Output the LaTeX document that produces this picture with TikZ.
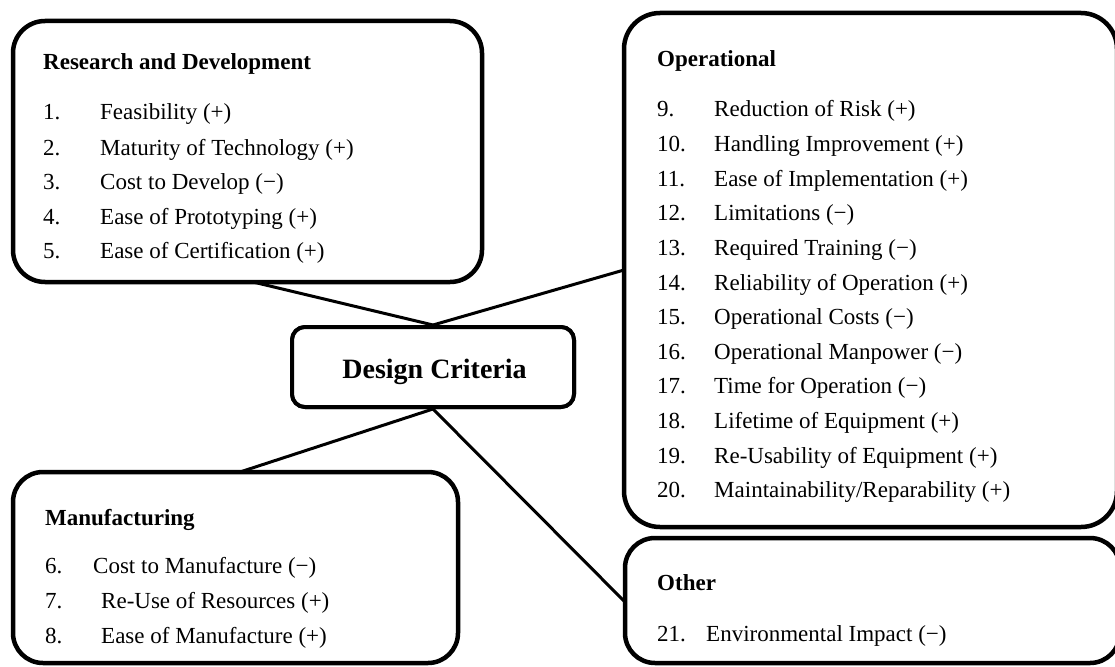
\documentclass[tikz,border=0pt]{standalone}
\usepackage{fontspec}
\setmainfont{Liberation Serif}
\begin{document}
\begin{tikzpicture}[x=1pt,y=-1pt,
  box/.style={draw, line width=4.5pt, rounded corners=32pt, fill=white, inner sep=0pt},
  centerbox/.style={draw, line width=4pt, rounded corners=13pt, fill=white, inner sep=0pt},
  link/.style={line width=3pt},
  txt/.style={anchor=base west, inner sep=0pt, font=\fontsize{23}{27}\selectfont},
  head/.style={txt, font=\fontsize{23}{27}\selectfont\bfseries},
  title/.style={anchor=base, inner sep=0pt, font=\fontsize{28}{33}\selectfont\bfseries}]
\useasboundingbox (0,0) rectangle (1115,666);
\clip (0,0) rectangle (1115,666);

% connector end points on the outer boxes
\coordinate (rdL) at (253,282);
\coordinate (opL) at (624,270);
\coordinate (mfT) at (240,472);
\coordinate (otL) at (625,602);

% central box
\node[centerbox, minimum width=282pt, minimum height=80pt] (dc) at (433,367) {};

% connectors
\draw[link] (rdL) -- (dc.north);
\draw[link] (dc.north) -- (opL);
\draw[link] (dc.south) -- (mfT);
\draw[link] (dc.south) -- (otL);

% boxes
\node[box, minimum width=469pt, minimum height=261pt] (rd) at (247.5,151.5) {};
\node[box, minimum width=493pt, minimum height=514pt, rounded corners=36pt] (op) at (870.5,270) {};
\node[box, minimum width=495pt, minimum height=125pt, rounded corners=30pt] (ot) at (872.5,600.5) {};
\node[box, minimum width=445pt, minimum height=191pt, rounded corners=30pt] (mf) at (235.5,567.5) {};
\node[centerbox, minimum width=282pt, minimum height=80pt] (dcb) at (433,367) {};

\node[title] (dct) at (434.5,378) {Design Criteria};

% Research and Development
\node[head] (rdh) at (43,70) {Research and Development};
\node[txt] (rdn1) at (43,120) {1.};   \node[txt] (rdt1) at (100,120) {Feasibility (+)};
\node[txt] (rdn2) at (43,155) {2.};   \node[txt] (rdt2) at (100,155) {Maturity of Technology (+)};
\node[txt] (rdn3) at (43,189.5) {3.}; \node[txt] (rdt3) at (100,189.5) {Cost to Develop (−)};
\node[txt] (rdn4) at (43,224) {4.};   \node[txt] (rdt4) at (100,224) {Ease of Prototyping (+)};
\node[txt] (rdn5) at (43,258.5) {5.}; \node[txt] (rdt5) at (100,258.5) {Ease of Certification (+)};

% Manufacturing
\node[head] (mfh) at (45,525) {Manufacturing};
\node[txt] (mfn6) at (45,573) {6.}; \node[txt] (mft6) at (93,573) {Cost to Manufacture (−)};
\node[txt] (mfn7) at (45,608) {7.}; \node[txt] (mft7) at (101,608) {Re-Use of Resources (+)};
\node[txt] (mfn8) at (45,643) {8.}; \node[txt] (mft8) at (101,643) {Ease of Manufacture (+)};

% Operational
\node[head] (oph) at (657,67) {Operational};
\foreach \n/\t [count=\i from 0] in {
  9/{Reduction of Risk (+)},
  10/{Handling Improvement (+)},
  11/{Ease of Implementation (+)},
  12/{Limitations (−)},
  13/{Required Training (−)},
  14/{Reliability of Operation (+)},
  15/{Operational Costs (−)},
  16/{Operational Manpower (−)},
  17/{Time for Operation (−)},
  18/{Lifetime of Equipment (+)},
  19/{Re-Usability of Equipment (+)},
  20/{Maintainability/Reparability (+)}}{
  \node[txt] (opn\n) at (657,117+34.6*\i) {\n.};
  \node[txt] (opt\n) at (714,117+34.6*\i) {\t};
}

% Other
\node[head] (oth) at (657,590) {Other};
\node[txt] (otn21) at (657,641) {21.}; \node[txt] (ott21) at (706,641) {Environmental Impact (−)};
\end{tikzpicture}
\end{document}
